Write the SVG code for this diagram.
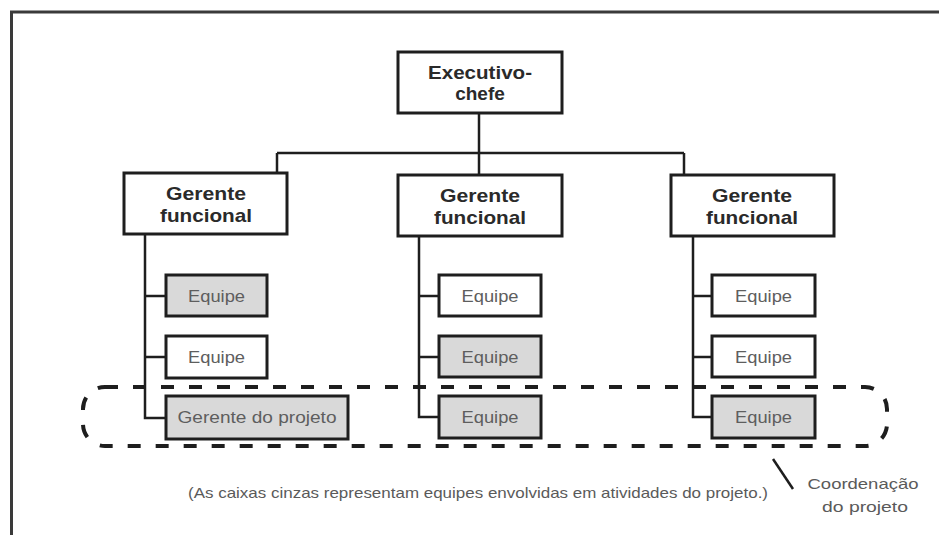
<svg xmlns="http://www.w3.org/2000/svg" width="939" height="535" viewBox="0 0 939 535">
  <style>
    .frame { fill: none; stroke: #3a3a3a; stroke-width: 3; }
    .box { fill: #ffffff; stroke: #1e1e1e; stroke-width: 3; }
    .box.grey { fill: #d9d9d9; }
    .head { font-family: "Liberation Sans", Arial, sans-serif; font-weight: bold; font-size: 19px; fill: #2a2a2a; text-anchor: middle; }
    .team { font-family: "Liberation Sans", Arial, sans-serif; font-size: 17px; fill: #5e5e5e; text-anchor: middle; }
    .note { font-family: "Liberation Sans", Arial, sans-serif; font-size: 15px; fill: #5a5a5a; text-anchor: middle; }
    .link { fill: none; stroke: #1e1e1e; stroke-width: 2.5; }
    .coord { fill: none; stroke: #1e1e1e; stroke-width: 4; stroke-dasharray: 13 15; }
  </style>

  <rect width="939" height="535" fill="#ffffff"/>
  <!-- page frame: top and left rules -->
  <path class="frame" d="M11.5,535 V12 H939"/>

  <!-- connectors -->
  <g id="connectors">
    <path class="link" d="M479,113 V175"/>
    <path class="link" d="M277,153 H684"/>
    <path class="link" d="M277,153 V173"/>
    <path class="link" d="M684,153 V175"/>
    <!-- left branch -->
    <path class="link" d="M145,234 V418 H166"/>
    <path class="link" d="M145,296 H166"/>
    <path class="link" d="M145,357 H166"/>
    <!-- middle branch -->
    <path class="link" d="M419,236 V417 H439"/>
    <path class="link" d="M419,296 H439"/>
    <path class="link" d="M419,357 H439"/>
    <!-- right branch -->
    <path class="link" d="M693,236 V417 H712"/>
    <path class="link" d="M693,296 H712"/>
    <path class="link" d="M693,357 H712"/>
  </g>

  <g id="ceo">
    <rect class="box" x="398" y="52" width="164" height="61"/>
    <text class="head" x="480" y="79" textLength="104" lengthAdjust="spacingAndGlyphs">Executivo-</text>
    <text class="head" x="480" y="100">chefe</text>
  </g>

  <g id="manager-1">
    <rect class="box" x="124" y="173" width="163" height="61"/>
    <text class="head" x="206" y="200" textLength="80" lengthAdjust="spacingAndGlyphs">Gerente</text>
    <text class="head" x="206" y="222" textLength="92" lengthAdjust="spacingAndGlyphs">funcional</text>
  </g>
  <g id="manager-2">
    <rect class="box" x="398" y="175" width="164" height="61"/>
    <text class="head" x="480" y="202" textLength="80" lengthAdjust="spacingAndGlyphs">Gerente</text>
    <text class="head" x="480" y="224" textLength="92" lengthAdjust="spacingAndGlyphs">funcional</text>
  </g>
  <g id="manager-3">
    <rect class="box" x="671" y="175" width="163" height="61"/>
    <text class="head" x="752" y="202" textLength="80" lengthAdjust="spacingAndGlyphs">Gerente</text>
    <text class="head" x="752" y="224" textLength="92" lengthAdjust="spacingAndGlyphs">funcional</text>
  </g>

  <!-- left column teams -->
  <g id="team-1a">
    <rect class="box grey" x="166" y="275" width="101" height="41"/>
    <text class="team" x="216.5" y="302" textLength="57" lengthAdjust="spacingAndGlyphs">Equipe</text>
  </g>
  <g id="team-1b">
    <rect class="box" x="166" y="336" width="101" height="42"/>
    <text class="team" x="216.5" y="363" textLength="57" lengthAdjust="spacingAndGlyphs">Equipe</text>
  </g>
  <g id="project-manager">
    <rect class="box grey" x="166" y="396" width="182" height="43"/>
    <text class="team" x="257" y="423" textLength="159" lengthAdjust="spacingAndGlyphs">Gerente do projeto</text>
  </g>

  <!-- middle column teams -->
  <g id="team-2a">
    <rect class="box" x="439" y="275" width="102" height="41"/>
    <text class="team" x="490" y="302" textLength="57" lengthAdjust="spacingAndGlyphs">Equipe</text>
  </g>
  <g id="team-2b">
    <rect class="box grey" x="439" y="336" width="102" height="41"/>
    <text class="team" x="490" y="363" textLength="57" lengthAdjust="spacingAndGlyphs">Equipe</text>
  </g>
  <g id="team-2c">
    <rect class="box grey" x="439" y="396" width="102" height="42"/>
    <text class="team" x="490" y="423" textLength="57" lengthAdjust="spacingAndGlyphs">Equipe</text>
  </g>

  <!-- right column teams -->
  <g id="team-3a">
    <rect class="box" x="712" y="275" width="103" height="41"/>
    <text class="team" x="763.5" y="302" textLength="57" lengthAdjust="spacingAndGlyphs">Equipe</text>
  </g>
  <g id="team-3b">
    <rect class="box" x="712" y="336" width="103" height="41"/>
    <text class="team" x="763.5" y="363" textLength="57" lengthAdjust="spacingAndGlyphs">Equipe</text>
  </g>
  <g id="team-3c">
    <rect class="box grey" x="712" y="396" width="103" height="42"/>
    <text class="team" x="763.5" y="423" textLength="57" lengthAdjust="spacingAndGlyphs">Equipe</text>
  </g>

  <!-- project coordination band -->
  <g id="coordination">
    <rect class="coord" x="83" y="387" width="804" height="59" rx="22" ry="22"/>
    <path class="link" d="M773,459 L793,489" stroke-width="2"/>
    <text class="note" x="863" y="489" font-size="16" textLength="111" lengthAdjust="spacingAndGlyphs">Coordenação</text>
    <text class="note" x="865" y="512" font-size="16" textLength="86" lengthAdjust="spacingAndGlyphs">do projeto</text>
  </g>

  <g id="caption">
    <text class="note" x="478" y="498" font-size="13.5" textLength="580" lengthAdjust="spacingAndGlyphs">(As caixas cinzas representam equipes envolvidas em atividades do projeto.)</text>
  </g>
</svg>
